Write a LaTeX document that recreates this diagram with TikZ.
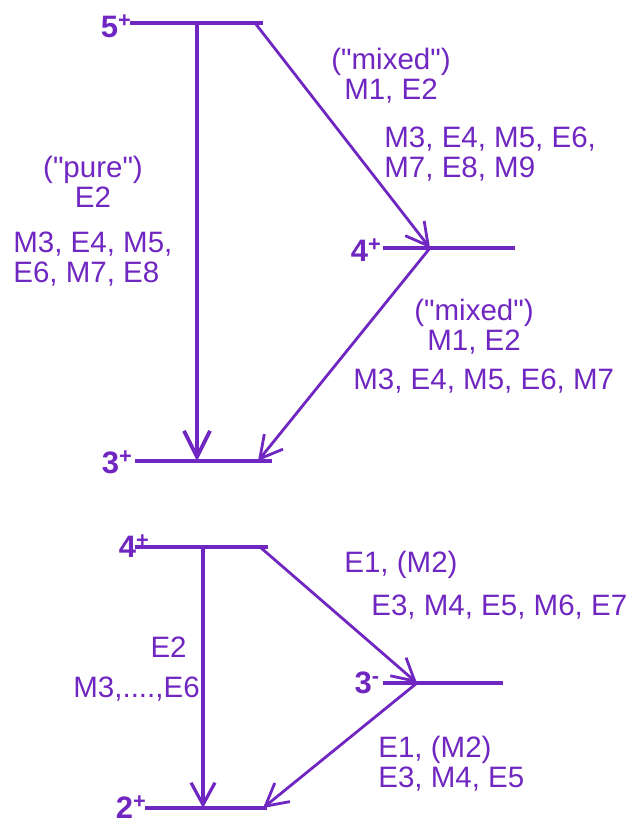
\documentclass[tikz,border=0pt]{standalone}
\usepackage{fontspec}
\setmainfont{Liberation Sans}
\usetikzlibrary{arrows.meta}
\definecolor{vio}{RGB}{112,38,192}

\begin{document}
\begin{tikzpicture}[x=1pt,y=-1pt,->,>={Straight Barb[length=22pt,width=24pt]},
    vio,line width=2.8pt,
    level/.style={-,line width=3.2pt},
    spin/.style={font=\fontsize{31}{31}\selectfont\bfseries,anchor=base,inner sep=0pt},
    mult/.style={font=\fontsize{29.5}{30}\selectfont,inner sep=0pt,text=vio}]
  \useasboundingbox (0,0) rectangle (632,823);

  % upper cascade 5+ -> 4+ -> 3+
  \coordinate (l5) at (130,23);  \coordinate (r5) at (263,23);
  \coordinate (v5) at (197,23);  \coordinate (d5) at (255,23);
  \coordinate (l4) at (383,248); \coordinate (r4) at (515,248);
  \coordinate (m4) at (430,248);
  \coordinate (l3) at (135,461); \coordinate (r3) at (272,461);
  \coordinate (v3) at (197,461); \coordinate (d3) at (258,461);

  \draw[level] (l5) -- (r5);
  \draw[level] (l4) -- (r4);
  \draw[level] (l3) -- (r3);

  \node[spin] (s5) at (116,37) {5\textsuperscript{+}};
  \node[spin] (s4) at (366,261) {4\textsuperscript{+}};
  \node[spin] (s3) at (117,473) {3\textsuperscript{+}};

  \path (v5) edge[line width=3.8pt,>={Straight Barb[length=26pt,width=26pt]}] (v3)
        (d5) edge (m4)
        (m4) edge (d3);

  \node[mult,anchor=base,align=center] (mx1) at (391,99) {(\textquotedbl mixed\textquotedbl)\\M1, E2};
  \node[mult,anchor=base west,align=left] (hi1) at (383,177) {M3, E4, M5, E6,\\ M7, E8, M9};
  \node[mult,anchor=base,align=center] (pu) at (93,207) {(\textquotedbl pure\textquotedbl)\\E2};
  \node[mult,anchor=base west,align=left] (hi2) at (12,282) {M3, E4, M5,\\E6, M7, E8};
  \node[mult,anchor=base,align=center] (mx2) at (474,350) {(\textquotedbl mixed\textquotedbl)\\M1, E2};
  \node[mult,anchor=base west] (hi3) at (352,389) {M3, E4, M5, E6, M7};

  % lower cascade 4+ -> 3- -> 2+
  \coordinate (l4b) at (135,547); \coordinate (r4b) at (268,547);
  \coordinate (v4b) at (203,547); \coordinate (d4b) at (260,547);
  \coordinate (l3b) at (383,683); \coordinate (r3b) at (503,683);
  \coordinate (m3b) at (417,683);
  \coordinate (l2b) at (145,808); \coordinate (r2b) at (267,808);
  \coordinate (v2b) at (203,808); \coordinate (d2b) at (263,808);

  \draw[level] (l4b) -- (r4b);
  \draw[level] (l3b) -- (r3b);
  \draw[level] (l2b) -- (r2b);

  \node[spin] (s4b) at (134,557) {4\textsuperscript{+}};
  \node[spin] (s3b) at (367,693) {3\textsuperscript{-}};
  \node[spin] (s2b) at (131,818) {2\textsuperscript{+}};

  \path (v4b) edge[line width=3.2pt] (v2b)
        (d4b) edge (m3b)
        (m3b) edge (d2b);

  \node[mult,anchor=base west] (e1a) at (343,572) {E1, (M2)};
  \node[mult,anchor=base west] (e3a) at (370,615) {E3, M4, E5, M6, E7};
  \node[mult,anchor=base east] (e2) at (188,657) {E2};
  \node[mult,anchor=base west] (m36) at (72,697) {M3,....,E6};
  \node[mult,anchor=base west,align=left] (e1b) at (377,787) {E1, (M2)\\E3, M4, E5};
\end{tikzpicture}
\end{document}
